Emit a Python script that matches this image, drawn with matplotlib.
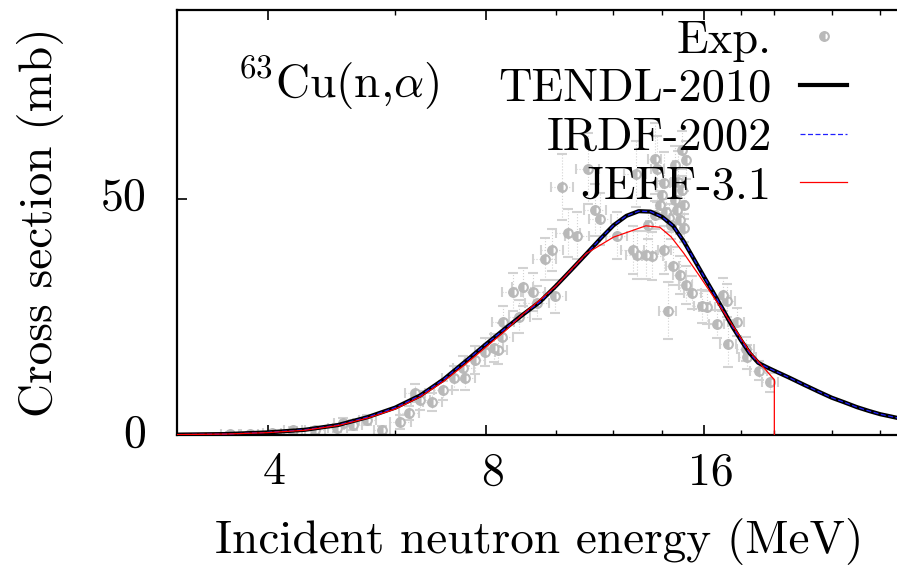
import matplotlib
matplotlib.use('Agg')
import matplotlib.pyplot as plt
from matplotlib.transforms import ScaledTranslation

plt.rcParams['font.family'] = ['cmr10', 'DejaVu Serif']
plt.rcParams['mathtext.fontset'] = 'cm'
plt.rcParams['axes.unicode_minus'] = False

# ---------------- data ----------------
tendl_E = [3.0, 3.5, 4.0, 4.5, 5.0, 5.5, 6.0, 6.5, 7.0, 7.5, 8.0, 8.5, 9.0, 9.5,
           10.0, 10.5, 11.0, 11.5, 12.0, 12.5, 13.0, 13.5, 14.0, 14.5, 15.0, 15.5,
           16.0, 16.5, 17.0, 17.5, 18.0, 18.5, 19.0, 19.5, 20.0, 21.0, 22.0, 23.0,
           24.0, 25.0, 26.0, 27.0, 28.0, 29.0, 30.0]
tendl_xs = [0.08, 0.2, 0.55, 1.1, 2.1, 3.8, 5.8, 8.4, 11.8, 15.6, 19.2, 22.5, 25.5, 28.2,
            31.6, 35.0, 38.3, 41.5, 44.4, 46.4, 47.4, 47.3, 46.2, 44.3, 41.0, 37.2,
            33.5, 30.0, 26.5, 23.0, 20.0, 17.3, 15.3, 14.4, 13.6, 12.1, 10.6, 9.2,
            7.9, 6.9, 5.9, 5.1, 4.4, 3.9, 3.4]

irdf_E = list(tendl_E)
irdf_xs = [0.08, 0.2, 0.55, 1.1, 2.1, 3.8, 5.8, 8.4, 11.8, 15.6, 19.2, 22.5, 25.5, 28.2,
           31.6, 35.0, 38.3, 41.5, 44.4, 46.4, 47.4, 47.3, 46.2, 44.3, 41.0, 37.2,
           33.5, 30.0, 26.5, 23.0, 20.0, 17.3, 15.3, 14.4, 13.6, 12.1, 10.6, 9.2,
           7.9, 6.9, 5.9, 5.1, 4.4, 3.9, 3.4]

jeff_E = [3.0, 3.5, 4.0, 4.5, 5.0, 5.5, 6.0, 6.5, 7.0, 7.5, 8.0, 8.5, 9.0, 9.5,
          10.0, 11.0, 12.0, 13.3, 13.9, 14.4, 15.0, 15.8, 16.7, 17.8, 18.5, 19.3,
          20.0, 20.0]
jeff_xs = [0.08, 0.2, 0.5, 1.0, 2.0, 3.6, 5.5, 8.1, 11.4, 15.0, 18.6, 22.0, 25.6, 28.6,
           31.6, 38.4, 41.9, 44.3, 44.0, 42.0, 38.5, 33.5, 28.0, 21.6, 17.6, 14.4,
           11.7, 0.0]

exp_E = [3.55, 3.78, 4.06, 4.34, 4.65, 4.99, 5.09, 5.25, 5.49, 5.76,
         6.10, 6.27, 6.39, 6.50, 6.75, 6.99, 7.22, 7.49, 7.45, 7.74,
         7.99, 8.20, 8.31, 8.43, 8.46, 8.71, 8.90, 8.99, 9.30, 9.42,
         9.98, 9.64, 9.88, 10.20, 10.40, 10.70, 11.05, 11.33, 11.51, 12.12,
         12.75, 12.95, 12.87, 13.29, 13.58, 13.67, 13.80, 14.07, 14.11, 14.25,
         14.48, 14.71, 14.80, 15.09, 15.42, 15.92, 16.15, 16.65, 16.97, 17.20,
         17.27, 17.74, 18.26, 18.35, 19.03, 19.71,
         13.90, 14.20, 14.30, 14.40, 14.60, 14.70, 14.80, 14.90, 15.00, 15.00,
         13.40, 13.70, 14.00, 14.90, 15.10, 14.60]
exp_xs = [0.2, 0.2, 0.4, 1.0, 1.0, 1.5, 2.5, 2.1, 3.2, 1.0,
          2.8, 4.7, 8.9, 7.4, 7.0, 9.5, 12.1, 12.1, 14.2, 15.9,
          17.6, 18.4, 18.0, 20.8, 23.9, 30.3, 25.0, 31.4, 30.3, 28.0,
          29.4, 37.3, 39.2, 52.5, 42.8, 42.2, 56.4, 47.7, 45.8, 42.2,
          39.2, 38.1, 55.3, 38.1, 37.9, 58.5, 56.4, 53.4, 39.2, 26.3,
          35.8, 53.6, 33.9, 31.8, 30.1, 27.3, 27.1, 23.5, 29.7, 28.4,
          19.3, 23.9, 18.2, 16.5, 13.6, 11.2,
          48.7, 47.2, 46.0, 44.5, 49.8, 47.7, 45.6, 51.9, 48.7, 43.9,
          44.5, 46.6, 50.8, 60.4, 58.3, 57.2]
exp_dE = [0.10, 0.10, 0.12, 0.12, 0.15, 0.15, 0.15, 0.15, 0.15, 0.15,
          0.20, 0.20, 0.20, 0.20, 0.20, 0.20, 0.25, 0.25, 0.25, 0.25,
          0.25, 0.25, 0.25, 0.30, 0.30, 0.30, 0.30, 0.30, 0.35, 0.35,
          0.35, 0.35, 0.35, 0.35, 0.40, 0.40, 0.40, 0.40, 0.40, 0.40,
          0.45, 0.45, 0.45, 0.45, 0.45, 0.30, 0.30, 0.30, 0.30, 0.40,
          0.30, 0.30, 0.30, 0.30, 0.40, 0.40, 0.40, 0.40, 0.45, 0.45,
          0.45, 0.45, 0.50, 0.50, 0.50, 0.50,
          0.10, 0.10, 0.10, 0.10, 0.10, 0.10, 0.10, 0.10, 0.10, 0.10,
          0.10, 0.10, 0.10, 0.10, 0.10, 0.10]
exp_dxs = [0.5, 0.5, 0.5, 0.8, 0.8, 0.8, 1.0, 1.0, 1.0, 1.0,
           1.5, 1.5, 2.0, 2.0, 2.0, 2.0, 2.5, 2.5, 2.5, 3.0,
           3.0, 3.0, 3.0, 3.0, 3.5, 4.0, 3.5, 4.0, 4.0, 3.5,
           3.5, 4.5, 4.5, 7.0, 5.0, 5.0, 7.5, 5.5, 5.5, 5.0,
           5.0, 5.0, 7.0, 5.0, 5.0, 7.5, 7.0, 6.5, 5.0, 6.0,
           4.0, 6.5, 4.0, 4.0, 3.5, 3.5, 3.5, 3.0, 3.5, 3.5,
           5.0, 3.0, 2.5, 2.5, 2.0, 2.0,
           3.0, 3.0, 3.0, 3.0, 3.0, 3.0, 3.0, 3.0, 3.0, 3.0,
           3.0, 3.0, 3.0, 4.0, 4.0, 4.0]

x_major = [4, 8, 16]
x_major_labels = ['4', '8', '16']
x_minor = [6, 10, 12, 14, 18, 20, 24, 28]
y_major = [0, 50]
y_major_labels = ['0', '50']

legend_labels = ['Exp.', 'TENDL-2010', 'IRDF-2002', 'JEFF-3.1']

# ---------------- figure ----------------
W, H = 897, 574
fig = plt.figure(figsize=(W / 100, H / 100), dpi=100)
ax = fig.add_axes([177 / W, 139 / H, 725 / W, 425 / H])

gray = '#b9b9b9'
eb = ax.errorbar(exp_E, exp_xs, xerr=exp_dE, yerr=exp_dxs, fmt='o',
                 color=gray, ecolor='#d2d2d2', elinewidth=0.8, capsize=3.5,
                 capthick=0.5, markersize=6.3, fillstyle='left',
                 markerfacecoloralt='white', markeredgewidth=1.5, zorder=1)
for bar in eb[2]:
    bar.set_linestyle(':')
for cap in eb[1]:
    cap.set_color('#dddddd')

l_tendl, = ax.plot(tendl_E, tendl_xs, color='black', lw=3.0, zorder=3)
l_irdf, = ax.plot(irdf_E, irdf_xs, color='#2020ff', lw=0.9, ls=(0, (4, 2)), zorder=4)
l_jeff, = ax.plot(jeff_E, jeff_xs, color='#ff0000', lw=0.9, zorder=5)

ax.set_xscale('log')
ax.set_xlim(3, 30)
ax.set_ylim(0, 90)

ax.set_xticks(x_major, labels=x_major_labels)
ax.set_xticks(x_minor, minor=True)
ax.xaxis.set_minor_formatter(plt.NullFormatter())
ax.set_yticks(y_major, labels=y_major_labels)
ax.yaxis.set_minor_locator(plt.NullLocator())

ax.tick_params(axis='x', which='both', direction='in', top=True, bottom=True,
               labelsize=33, pad=12)
ax.tick_params(axis='x', which='major', length=7.5, width=1.2)
ax.tick_params(axis='x', which='minor', length=3.8, width=1.0)
ax.tick_params(axis='y', which='major', direction='in', length=7.5, width=1.2,
               labelsize=33, pad=22, right=False)

# gnuplot-like small offsets of the tick labels
for lab in ax.get_xticklabels():
    lab.set_transform(lab.get_transform() + ScaledTranslation(0.07, 0, fig.dpi_scale_trans))
for lab in ax.get_yticklabels():
    lab.set_transform(lab.get_transform() + ScaledTranslation(0, 0.05, fig.dpi_scale_trans))

for s in ['left', 'bottom', 'top']:
    ax.spines[s].set_linewidth(1.6)
ax.spines['right'].set_visible(False)

ax.set_xlabel('Incident neutron energy (MeV)', fontsize=34, labelpad=18)
ax.set_ylabel('Cross section (mb)', fontsize=34, labelpad=26)

ax.text(0.083, 0.795, r'$^{63}$Cu(n,$\alpha$)', transform=ax.transAxes,
        fontsize=34, va='baseline', ha='left')

leg = ax.legend([eb[0], l_tendl, l_irdf, l_jeff], legend_labels,
                loc='upper right', bbox_to_anchor=(847 / W, 1 - 20 / H),
                bbox_transform=fig.transFigure, frameon=False, markerfirst=False,
                fontsize=33.5, handlelength=1.0, handletextpad=0.62,
                labelspacing=0.15, borderpad=0, borderaxespad=0)

fig.savefig('out.png', dpi=100)
